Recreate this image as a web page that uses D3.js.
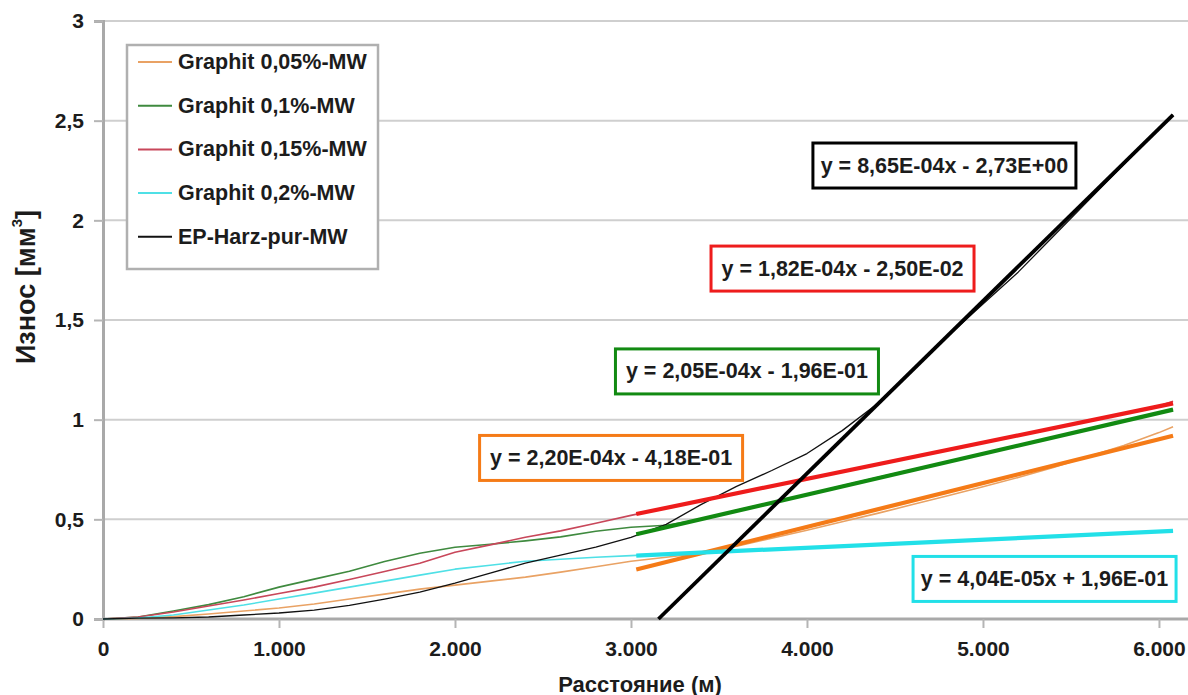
<!DOCTYPE html>
<html>
<head>
<meta charset="utf-8">
<script src="https://cdn.jsdelivr.net/npm/d3@7"></script>
<style>
  html, body { margin: 0; padding: 0; background: #fff; }
  svg { display: block; font-family: "Liberation Sans", Arial, sans-serif; font-weight: bold; }
</style>
</head>
<body>
<svg id="chart" width="1188" height="695"></svg>
<script>
// Wear volume vs. sliding distance, measured curves with linear fits (3000 m onward)
const seriesNames = ["Graphit 0,05%-MW", "Graphit 0,1%-MW", "Graphit 0,15%-MW", "Graphit 0,2%-MW", "EP-Harz-pur-MW"];
const rawColors   = ["#e9a264", "#3f8a3f", "#c8475a", "#4fe0e6", "#111111"];
const fitColors   = ["#f57b17", "#128a12", "#ee1c1c", "#22e0e8", "#000000"];

// measured distance grid (m)
const distance = [0, 200, 400, 600, 800, 1000, 1200, 1400, 1600, 1800, 2000, 2200, 2400, 2600, 2800, 3000,
                  3200, 3400, 3600, 3800, 4000, 4200, 4400, 4600, 4800, 5000, 5200, 5400, 5600, 5800, 6000, 6080];

// measured wear (mm³)
const wear005 = [0, 0.003, 0.012, 0.025, 0.040, 0.055, 0.075, 0.100, 0.125, 0.150, 0.170, 0.190, 0.210, 0.235, 0.262, 0.290,
                 0.310, 0.330, 0.365, 0.405, 0.445, 0.488, 0.530, 0.574, 0.618, 0.663, 0.710, 0.760, 0.815, 0.870, 0.935, 0.965];
const wear010 = [0, 0.010, 0.040, 0.072, 0.112, 0.160, 0.200, 0.240, 0.288, 0.330, 0.360, 0.375, 0.392, 0.412, 0.440, 0.460,
                 0.470, 0.500, 0.545, 0.585, 0.625, 0.668, 0.710, 0.750, 0.790, 0.830, 0.870, 0.912, 0.952, 0.992, 1.035, 1.052];
const wear015 = [0, 0.010, 0.035, 0.065, 0.095, 0.128, 0.160, 0.198, 0.238, 0.280, 0.335, 0.372, 0.410, 0.442, 0.480, 0.520,
                 0.558, 0.594, 0.630, 0.667, 0.703, 0.740, 0.776, 0.812, 0.850, 0.885, 0.921, 0.958, 0.994, 1.030, 1.068, 1.092];
const wear020 = [0, 0.005, 0.020, 0.045, 0.070, 0.100, 0.130, 0.160, 0.190, 0.220, 0.250, 0.270, 0.290, 0.300, 0.310, 0.318,
                 0.326, 0.334, 0.342, 0.350, 0.358, 0.366, 0.374, 0.382, 0.390, 0.398, 0.406, 0.414, 0.422, 0.430, 0.438, 0.442];
const wearPur = [0, 0.004, 0.006, 0.010, 0.020, 0.030, 0.045, 0.068, 0.100, 0.135, 0.180, 0.230, 0.280, 0.320, 0.360, 0.410,
                 0.475, 0.575, 0.665, 0.745, 0.830, 0.945, 1.080, 1.250, 1.420, 1.580, 1.740, 1.920, 2.100, 2.280, 2.460, 2.530];
const wearSeries = [wear005, wear010, wear015, wear020, wearPur];

// linear fits y = a·x + b, fitted over the range below
const fitSlopes     = [2.20e-4, 2.05e-4, 1.82e-4, 4.04e-5, 8.65e-4];
const fitIntercepts = [-4.18e-1, -1.96e-1, -2.50e-2, 1.96e-1, -2.73];
const fitLabels     = ["y = 2,20E-04x - 4,18E-01", "y = 2,05E-04x - 1,96E-01", "y = 1,82E-04x - 2,50E-02",
                       "y = 4,04E-05x + 1,96E-01", "y = 8,65E-04x - 2,73E+00"];
const fitFrom = 3030, fitTo = 6080;
// where each fit label box sits (distance, wear at box centre)
const labelAnchorX = [2887, 3659, 4202, 5350, 4781];
const labelAnchorY = [0.808, 1.242, 1.758, 0.201, 2.275];

const yTicks = [0, 0.5, 1, 1.5, 2, 2.5, 3];
const xTicks = [0, 1000, 2000, 3000, 4000, 5000, 6000];

const locale = d3.formatLocale({ decimal: ",", thousands: ".", grouping: [3], currency: ["", ""] });
const fmtX = locale.format(",d");
const fmtY = v => locale.format(",")(v);

const svg = d3.select("#chart");
const x = d3.scaleLinear().domain([0, 6165]).range([103, 1188]);
const y = d3.scaleLinear().domain([0, 3]).range([619, 21]);

// horizontal gridlines
svg.append("g").selectAll("line").data(yTicks.filter(d => d > 0)).join("line")
  .attr("x1", x(0)).attr("x2", x.range()[1])
  .attr("y1", d => y(d)).attr("y2", d => y(d))
  .attr("stroke", "#cfcfcf").attr("stroke-width", 2);

// axes
const yAxis = svg.append("g").attr("transform", `translate(${x(0)},0)`)
  .call(d3.axisLeft(y).tickValues(yTicks).tickFormat(fmtY).tickSize(9).tickPadding(10));
const xAxis = svg.append("g").attr("transform", `translate(0,${y(0)})`)
  .call(d3.axisBottom(x).tickValues(xTicks).tickFormat(d => d === 0 ? "0" : fmtX(d)).tickSize(9).tickPadding(13));
[yAxis, xAxis].forEach(g => {
  g.select(".domain").attr("stroke", "#a9a9a9").attr("stroke-width", 3);
  g.selectAll(".tick line").attr("stroke", "#b5b5b5").attr("stroke-width", 2);
  g.selectAll(".tick text").attr("fill", "#1c1c1c")
    .style("font-size", "21px").style("font-weight", "bold").style("font-family", "'Liberation Sans', Arial, sans-serif");
});
xAxis.select(".domain").attr("d", `M${x(0)},0H${x.range()[1]}`);

// measured curves
const line = d3.line().x(d => x(d[0])).y(d => y(d[1]));
const rawG = svg.append("g");
wearSeries.forEach((vals, i) => {
  rawG.append("path")
    .datum(distance.map((d, k) => [d, vals[k]]))
    .attr("fill", "none").attr("stroke", rawColors[i]).attr("stroke-width", i === 4 ? 1.3 : 1.6)
    .attr("stroke-linejoin", "round")
    .attr("d", line);
});

// linear fits
const fitG = svg.append("g");
fitSlopes.forEach((a, i) => {
  const b = fitIntercepts[i];
  const zeroAt = -b / a;
  const start = zeroAt > fitFrom ? zeroAt : fitFrom;
  fitG.append("path")
    .datum([[start, a * start + b], [fitTo, a * fitTo + b]])
    .attr("fill", "none").attr("stroke", fitColors[i]).attr("stroke-width", i === 4 ? 3.8 : 4.2)
    .attr("d", line);
});

// fit equation boxes
const boxW = 263, boxH = 45;
fitLabels.forEach((t, i) => {
  const cx = x(labelAnchorX[i]), cy = y(labelAnchorY[i]);
  const g = svg.append("g");
  g.append("rect")
    .attr("x", cx - boxW / 2).attr("y", cy - boxH / 2).attr("width", boxW).attr("height", boxH)
    .attr("fill", "#fff").attr("stroke", fitColors[i]).attr("stroke-width", 3);
  g.append("text")
    .attr("x", cx).attr("y", cy).attr("text-anchor", "middle").attr("dominant-baseline", "central")
    .attr("fill", "#1c1c1c").style("font-size", "21.5px").text(t);
});

// legend
const lg = svg.append("g");
lg.append("rect").attr("x", 127).attr("y", 45).attr("width", 251).attr("height", 224)
  .attr("fill", "#fff").attr("stroke", "#b0b0b0").attr("stroke-width", 2.5);
seriesNames.forEach((n, i) => {
  const ry = 62 + i * 43.7;
  lg.append("line").attr("x1", 138).attr("x2", 172).attr("y1", ry).attr("y2", ry)
    .attr("stroke", rawColors[i]).attr("stroke-width", 2);
  lg.append("text").attr("x", 178).attr("y", ry).attr("dominant-baseline", "central")
    .attr("fill", "#1c1c1c").style("font-size", "21.5px").text(n);
});

// axis titles
svg.append("text").attr("x", 640).attr("y", 684).attr("text-anchor", "middle").attr("dominant-baseline", "central")
  .attr("fill", "#1c1c1c").style("font-size", "22px").text("Расстояние (м)");
const yt = svg.append("text").attr("transform", "translate(26,287) rotate(-90)")
  .attr("text-anchor", "middle").attr("dominant-baseline", "central")
  .attr("fill", "#1c1c1c").style("font-size", "27px");
yt.append("tspan").text("Износ [мм");
yt.append("tspan").attr("dy", -10).style("font-size", "15px").text("3");
yt.append("tspan").attr("dy", 10).text("]");
</script>
</body>
</html>
